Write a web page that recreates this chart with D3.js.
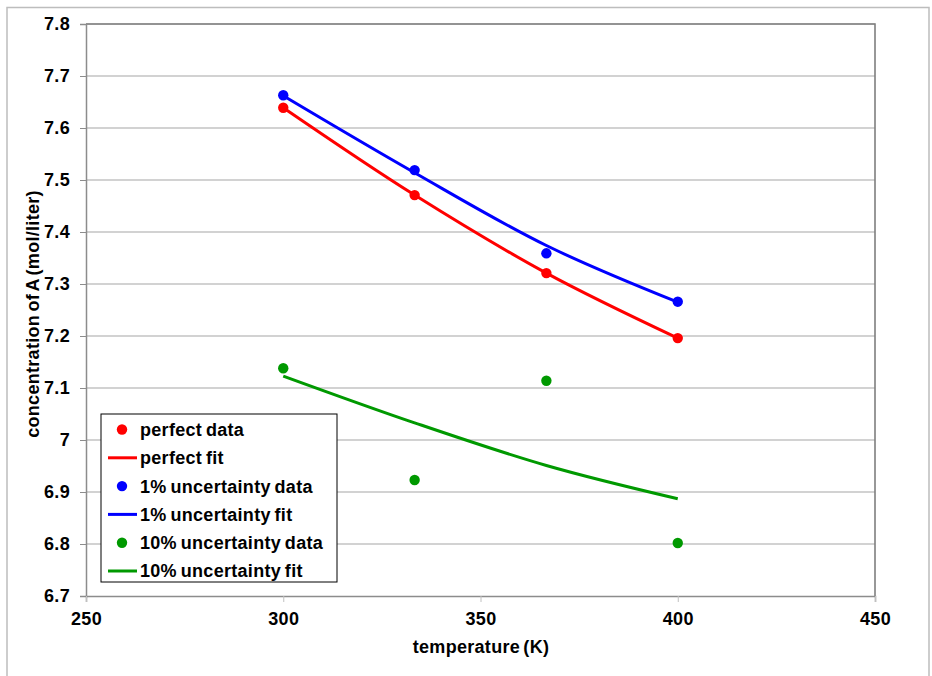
<!DOCTYPE html>
<html>
<head>
<meta charset="utf-8">
<script src="https://cdn.jsdelivr.net/npm/d3@7"></script>
<style>
  body { margin: 0; background: #fff; }
  svg { display: block; font-family: "Liberation Sans", Arial, sans-serif; }
</style>
</head>
<body>
<svg id="chart" width="932" height="676"></svg>
<script>
// temperatures (K)
const temps = [300, 333.3, 366.7, 400];

// concentration of A (mol/liter)
const perfectData = [7.639, 7.471, 7.321, 7.196];
const perfectFit = [7.639, 7.471, 7.321, 7.196];
const unc1Data = [7.663, 7.519, 7.359, 7.266];
const unc1Fit = [7.662, 7.514, 7.374, 7.265];
const unc10Data = [7.138, 6.923, 7.114, 6.802];
const unc10Fit = [7.123, 7.033, 6.951, 6.887];

const xTicks = [250, 300, 350, 400, 450];
const yTicks = [6.7, 6.8, 6.9, 7, 7.1, 7.2, 7.3, 7.4, 7.5, 7.6, 7.7, 7.8];

const series = [
  { label: "perfect data", type: "dot", color: "#ff0000", values: perfectData },
  { label: "perfect fit", type: "line", color: "#ff0000", values: perfectFit },
  { label: "1% uncertainty data", type: "dot", color: "#0000ff", values: unc1Data },
  { label: "1% uncertainty fit", type: "line", color: "#0000ff", values: unc1Fit },
  { label: "10% uncertainty data", type: "dot", color: "#009900", values: unc10Data },
  { label: "10% uncertainty fit", type: "line", color: "#009900", values: unc10Fit }
];

const width = 932, height = 676;
const margin = { top: 24, right: 57, bottom: 80, left: 86 };
const fontSize = 18;
const svg = d3.select("#chart");

// outer chart frame
svg.append("rect")
  .attr("x", 7).attr("y", 7.5)
  .attr("width", 922).attr("height", 680)
  .attr("fill", "none").attr("stroke", "#bdbdbd").attr("stroke-width", 1.5);

const x = d3.scaleLinear().domain([250, 450]).range([margin.left, width - margin.right]);
const y = d3.scaleLinear().domain([6.7, 7.8]).range([height - margin.bottom, margin.top]);

// gridlines
svg.append("g")
  .selectAll("line")
  .data(yTicks.slice(1))
  .join("line")
  .attr("x1", x(250)).attr("x2", x(450))
  .attr("y1", d => y(d)).attr("y2", d => y(d))
  .attr("stroke", "#a6a6a6").attr("stroke-width", 1.2);

// plot frame (top/right)
svg.append("path")
  .attr("d", `M${x(250)},${y(7.8)}H${x(450)}V${y(6.7)}`)
  .attr("fill", "none").attr("stroke", "#7f7f7f").attr("stroke-width", 1.6);

const styleText = sel => sel
  .attr("font-size", fontSize).attr("font-weight", "bold").attr("fill", "#000")
  .attr("font-family", "Liberation Sans, Arial, sans-serif")
  .attr("letter-spacing", 0.3);

const yAxis = g => g
  .attr("transform", `translate(${x(250)},0)`)
  .call(d3.axisLeft(y).tickValues(yTicks).tickFormat(d3.format("")).tickSize(6).tickPadding(10))
  .call(g => g.select(".domain").attr("stroke", "#8c8c8c").attr("stroke-width", 1.5))
  .call(g => g.selectAll(".tick line").attr("stroke", "#8c8c8c"))
  .call(g => g.selectAll(".tick text").call(styleText));

const xAxis = g => g
  .attr("transform", `translate(0,${y(6.7)})`)
  .call(d3.axisBottom(x).tickValues(xTicks).tickSize(6).tickPadding(10))
  .call(g => g.select(".domain").attr("stroke", "#8c8c8c").attr("stroke-width", 1.5))
  .call(g => g.selectAll(".tick line").attr("stroke", "#c0c0c0"))
  .call(g => g.selectAll(".tick text").call(styleText));

svg.append("g").call(yAxis);
svg.append("g").call(xAxis);

// axis titles
svg.append("text")
  .attr("transform", `translate(39,${(y(7.8) + y(6.7)) / 2 + 4}) rotate(-90)`)
  .attr("text-anchor", "middle")
  .call(styleText)
  .attr("word-spacing", -2)
  .text("concentration of A (mol/liter)");

svg.append("text")
  .attr("x", 481).attr("y", 653)
  .attr("text-anchor", "middle")
  .call(styleText)
  .attr("word-spacing", -2)
  .text("temperature (K)");

// fit lines
const line = d3.line()
  .x((d, i) => x(temps[i]))
  .y(d => y(d))
  .curve(d3.curveCatmullRom.alpha(0.5));

svg.append("g")
  .selectAll("path")
  .data(series.filter(s => s.type === "line"))
  .join("path")
  .attr("d", d => line(d.values))
  .attr("fill", "none")
  .attr("stroke", d => d.color)
  .attr("stroke-width", 3);

// data points
series.filter(s => s.type === "dot").forEach(s => {
  svg.append("g")
    .selectAll("circle")
    .data(s.values)
    .join("circle")
    .attr("cx", (d, i) => x(temps[i]))
    .attr("cy", d => y(d))
    .attr("r", 5.2)
    .attr("fill", s.color);
});

// legend
const legend = svg.append("g").attr("transform", "translate(101,414)");
legend.append("rect")
  .attr("width", 236).attr("height", 168)
  .attr("fill", "#fff").attr("stroke", "#000").attr("stroke-width", 1);

const rows = legend.selectAll("g.row")
  .data(series)
  .join("g")
  .attr("class", "row")
  .attr("transform", (d, i) => `translate(0,${15.5 + i * 28.3})`);

rows.filter(d => d.type === "dot").append("circle")
  .attr("cx", 21).attr("cy", 0).attr("r", 5.2)
  .attr("fill", d => d.color);

rows.filter(d => d.type === "line").append("line")
  .attr("x1", 7).attr("x2", 36).attr("y1", 0).attr("y2", 0)
  .attr("stroke", d => d.color).attr("stroke-width", 3);

rows.append("text")
  .attr("x", 39).attr("y", 0).attr("dy", "0.36em")
  .call(styleText)
  .attr("word-spacing", -1.5)
  .text(d => d.label);
</script>
</body>
</html>
